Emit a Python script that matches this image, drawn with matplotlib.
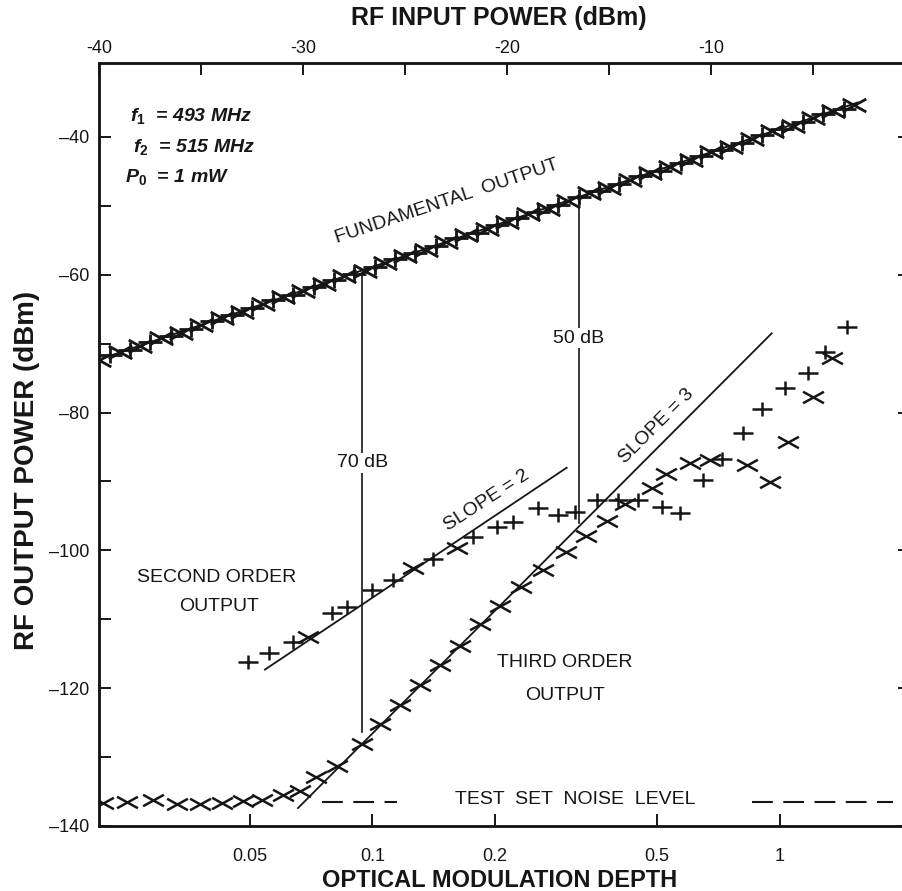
import numpy as np
import matplotlib
matplotlib.use("Agg")
import matplotlib.pyplot as plt
from matplotlib.path import Path
from matplotlib.ticker import NullLocator

plt.rcParams["font.family"] = ["Liberation Sans", "DejaVu Sans"]
plt.rcParams["mathtext.fontset"] = "custom"
plt.rcParams["mathtext.it"] = "Liberation Sans:italic:bold"
plt.rcParams["mathtext.rm"] = "Liberation Sans:bold"

INK = "#161616"

# ---- data (x = optical modulation depth, y = dBm) ----
# fundamental output, two tones (x and + markers)
fund_x_m = [0.02143, 0.02404, 0.02698, 0.03027, 0.03396, 0.03811, 0.04276, 0.04798,
            0.05383, 0.06040, 0.06777, 0.07604, 0.08532, 0.09572, 0.1074, 0.1205,
            0.1352, 0.1517, 0.1702, 0.1910, 0.2143, 0.2404, 0.2698, 0.3027, 0.3396,
            0.3811, 0.4276, 0.4798, 0.5383, 0.6040, 0.6777, 0.7604, 0.8532, 0.9572,
            1.074, 1.205, 1.352, 1.517]
fund_x_p = [-72.4, -71.2, -70.4, -69.2, -68.4, -67.3, -66.2, -65.4, -64.3, -63.2,
            -62.4, -61.3, -60.2, -59.4, -58.3, -57.2, -56.4, -55.3, -54.2, -53.4,
            -52.3, -51.2, -50.4, -49.3, -48.2, -47.4, -46.3, -45.2, -44.4, -43.3,
            -42.2, -41.4, -40.3, -39.2, -38.4, -37.3, -36.2, -35.4]
fund_p_m = [0.02270, 0.02547, 0.02858, 0.03207, 0.03597, 0.04037, 0.04529, 0.05082,
            0.05702, 0.06398, 0.07179, 0.08055, 0.09038, 0.1014, 0.1138, 0.1276,
            0.1432, 0.1607, 0.1803, 0.2023, 0.2270, 0.2547, 0.2858, 0.3207, 0.3597,
            0.4037, 0.4529, 0.5082, 0.5702, 0.6398, 0.7179, 0.8055, 0.9038, 1.014,
            1.138, 1.276, 1.432]
fund_p_p = [-71.7, -70.9, -69.7, -68.9, -67.8, -66.7, -65.9, -64.8, -63.7, -62.9,
            -61.8, -60.7, -59.9, -58.8, -57.7, -56.9, -55.8, -54.7, -53.9, -52.8,
            -51.7, -50.9, -49.8, -48.7, -47.9, -46.8, -45.7, -44.9, -43.8, -42.7,
            -41.9, -40.8, -39.7, -38.9, -37.8, -36.7, -35.9]
fund_fit_m = [0.02137, 1.55]
fund_fit_p = [-72.3, -35.0]

# second order output
sec_m = [0.0496, 0.0558, 0.0639, 0.0797, 0.0867, 0.0998, 0.1124, 0.1409, 0.1766,
         0.2022, 0.2214, 0.2550, 0.2855, 0.3142, 0.3557, 0.4006, 0.4484, 0.5135, 0.5684]
sec_p = [-116.2, -114.9, -113.3, -109.1, -108.2, -105.8, -104.3, -101.3, -98.1,
         -96.6, -95.9, -93.9, -94.9, -94.4, -92.7, -92.7, -92.7, -93.7, -94.6]
sec_x_m = [0.0696, 0.1258, 0.1613]
sec_x_p = [-112.6, -102.6, -99.7]

# third order output
third_m = [0.0218, 0.0250, 0.0290, 0.0332, 0.0378, 0.0428, 0.0482, 0.0536, 0.0604,
           0.0665, 0.0728, 0.0819, 0.0943, 0.1044, 0.1169, 0.1309, 0.1466, 0.1641,
           0.1837, 0.2057, 0.2316, 0.2623, 0.2987, 0.3344, 0.3764, 0.4167, 0.4853,
           0.5253, 0.6014, 0.6734, 0.8301, 0.9451, 1.046, 1.205, 1.341]
third_p = [-136.7, -136.5, -136.2, -136.8, -136.8, -136.7, -136.4, -136.2, -135.5,
           -134.9, -132.9, -131.3, -128.1, -125.2, -122.4, -119.5, -116.6, -113.9,
           -110.7, -108.1, -105.3, -102.8, -100.2, -97.9, -95.7, -93.3, -90.9,
           -88.9, -87.3, -86.9, -87.6, -90.1, -84.3, -77.7, -72.1]
upper_m = [0.6473, 0.7205, 0.8115, 0.9035, 1.029, 1.171, 1.289, 1.460]
upper_p = [-89.8, -86.7, -83.0, -79.5, -76.4, -74.3, -71.2, -67.6]

# slope guides and level markers
slope2_m = [0.05455, 0.2998]
slope2_p = [-117.3, -88.0]
slope3_m = [0.06574, 0.9542]
slope3_p = [-137.4, -68.5]
gap70_m, gap70_p = 0.0945, [-60.0, -126.3]
gap50_m, gap50_p = 0.3214, [-49.5, -96.0]
noise_level = -136.5
noise_seg1 = [0.0753, 0.1150]
noise_seg2 = [0.8537, 1.893]

# RF input power (dBm) at modulation depth 1
DBM_AT_M1 = -6.62


def m_to_dbm(m):
    return 20 * np.log10(np.asarray(m, dtype=float)) + DBM_AT_M1


# flattened x and + markers like the original plotter symbols
xmark = Path([(-1, -0.55), (1, 0.55), (-1, 0.55), (1, -0.55)],
             [Path.MOVETO, Path.LINETO, Path.MOVETO, Path.LINETO])
pmark = Path([(-1, 0), (1, 0), (0, -0.65), (0, 0.65)],
             [Path.MOVETO, Path.LINETO, Path.MOVETO, Path.LINETO])

fig = plt.figure(figsize=(9.03, 8.91), dpi=100)
ax = fig.add_axes([99 / 903, 65 / 891, 811 / 903, 763 / 891])
ax.set_xscale("log")
ax.set_xlim(0.02137, 2.084)
ax.set_ylim(-140, -29.26)

mk = dict(linestyle="none", color=INK, markeredgewidth=1.8, markersize=15)
fk = dict(linestyle="none", color=INK, markeredgewidth=2.0, markersize=17)
ax.plot(fund_fit_m, fund_fit_p, color=INK, lw=1.4)
ax.plot(fund_x_m, fund_x_p, marker=xmark, **fk)
ax.plot(fund_p_m, fund_p_p, marker=pmark, **fk)

ax.plot(sec_m, sec_p, marker=pmark, **mk)
ax.plot(sec_x_m, sec_x_p, marker=xmark, **mk)
ax.plot(third_m, third_p, marker=xmark, **mk)
ax.plot(upper_m, upper_p, marker=pmark, **mk)

ax.plot(slope2_m, slope2_p, color=INK, lw=1.3)
ax.plot(slope3_m, slope3_p, color=INK, lw=1.3)
ax.plot([gap70_m, gap70_m], gap70_p, color=INK, lw=1.2)
ax.plot([gap50_m, gap50_m], gap50_p, color=INK, lw=1.2)
ax.plot(noise_seg1, [noise_level, noise_level], color=INK, lw=1.5, dashes=(10, 5))
ax.plot(noise_seg2, [noise_level, noise_level], color=INK, lw=1.5, dashes=(10, 5))

# annotations
txt = dict(color=INK, fontsize=14, ha="center", va="center")
ax.text(gap70_m, -87.3, "70 dB", bbox=dict(facecolor="white", edgecolor="none", pad=1), **txt)
ax.text(gap50_m, -69.2, "50 dB", bbox=dict(facecolor="white", edgecolor="none", pad=1), **txt)
ax.text(0.1525, -49.4, "FUNDAMENTAL  OUTPUT", rotation=18.5, **txt)
ax.text(0.1911, -92.7, "SLOPE = 2", rotation=33, **txt)
ax.text(0.4993, -81.9, "SLOPE = 3", rotation=45, **txt)
ax.text(0.0416, -103.9, "SECOND ORDER", **txt)
ax.text(0.0420, -108.2, "OUTPUT", **txt)
ax.text(0.2969, -116.3, "THIRD ORDER", **txt)
ax.text(0.2969, -121.0, "OUTPUT", **txt)
ax.text(0.3142, -136.2, "TEST  SET  NOISE  LEVEL", **txt)

par = dict(color=INK, fontsize=14, ha="left", va="center", style="italic", fontweight="bold")
ax.text(0.02545, -37.0, r"$f_1$  = 493 MHz", **par)
ax.text(0.02588, -41.4, r"$f_2$  = 515 MHz", **par)
ax.text(0.02474, -45.8, r"$P_0$  = 1 mW", **par)

# axes, ticks and labels
ax.set_xticks([0.05, 0.1, 0.2, 0.5, 1], ["0.05", "0.1", "0.2", "0.5", "1"])
ax.xaxis.set_minor_locator(NullLocator())
ax.set_yticks([-40, -60, -80, -100, -120, -140],
              ["\u201340", "\u201360", "\u201380", "\u2013100", "\u2013120", "\u2013140"])
ax.set_yticks([-50, -70, -90, -110, -130], minor=True)
ax.tick_params(which="both", direction="in", length=8.6, width=1.4,
               colors=INK, labelsize=13)
ax.tick_params(axis="x", pad=15.5)
ax.tick_params(axis="y", pad=7)
ax.tick_params(axis="y", which="major", right=True)
for s in ax.spines.values():
    s.set_linewidth(1.8)
    s.set_color(INK)

# top axis: RF input power, linear in dBm = linear in log(modulation depth)
top = ax.twiny()
top.set_xlim(m_to_dbm(ax.get_xlim()))
top.set_xticks([-40, -30, -20, -10], ["-40", "-30", "-20", "-10"])
top.set_xticks([-35, -25, -15, -5], minor=True)
top.tick_params(which="both", direction="in", length=8.6, width=1.4,
                colors=INK, labelsize=13, pad=4.5)
for s in top.spines.values():
    s.set_linewidth(1.8)
    s.set_color(INK)
top.set_xlabel("RF INPUT POWER (dBm)", fontsize=18, fontweight="bold", color=INK)
top.xaxis.set_label_coords(0.4926, 1.059)
top.xaxis.label.set_va("center")

ax.set_xlabel("OPTICAL MODULATION DEPTH", fontsize=17, fontweight="bold", color=INK)
ax.xaxis.set_label_coords(0.4945, -0.0715)
ax.xaxis.label.set_va("center")
ax.set_ylabel("RF OUTPUT POWER (dBm)", fontsize=20, fontweight="bold", color=INK)
ax.yaxis.set_label_coords(-0.0888, 0.4666)
ax.yaxis.label.set_va("center")
ax.yaxis.label.set_ha("center")

fig.savefig("out.png", dpi=100)
